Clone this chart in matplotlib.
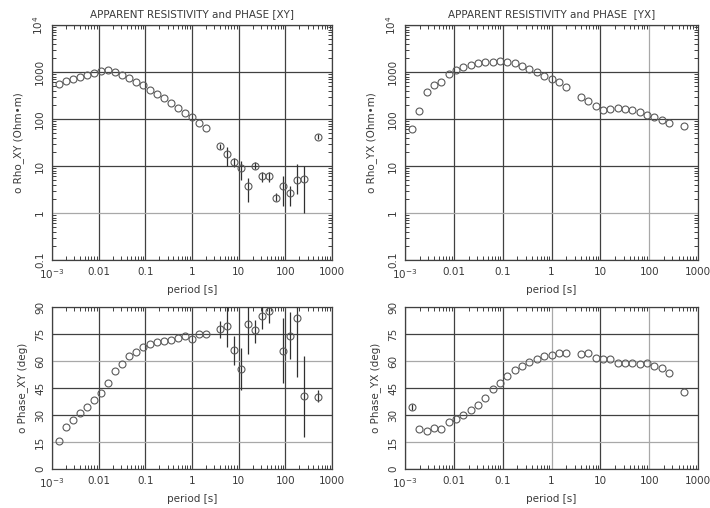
import matplotlib
matplotlib.use("Agg")
import matplotlib.pyplot as plt
import matplotlib.ticker as mticker
import numpy as np

# periods [s]
period = [0.00138, 0.00195, 0.00276, 0.00391, 0.00552, 0.00781, 0.0110, 0.0156,
          0.0221, 0.0313, 0.0442, 0.0625, 0.0884, 0.125, 0.177, 0.25, 0.354, 0.5,
          0.707, 1.0, 1.41, 2.0, 4.0, 5.66, 8.0, 11.3, 16.0, 22.6, 32.0, 45.3,
          64.0, 90.5, 128.0, 181.0, 256.0, 512.0]

rho_xy = [550, 630, 720, 790, 880, 970, 1060, 1100, 980, 870, 730, 610, 520, 410,
          340, 275, 215, 170, 135, 110, 83, 65, 26, 18, 12, 9, 3.7, 10, 6, 6, 2.1,
          3.8, 2.6, 5, 5.3, 42]
rho_xy_lo = rho_xy[:22] + [23, 10, 9.5, 5, 1.7, 8.5, 4.5, 4.5, 1.8, 1.4, 1.4, 2.5, 1.0, 38]
rho_xy_hi = rho_xy[:22] + [29, 25, 15, 13, 5.5, 12, 7.5, 7.5, 2.6, 6, 3.7, 11, 10, 47]

rho_yx = [60, 150, 380, 520, 610, 920, 1100, 1260, 1390, 1520, 1660, 1660, 1720,
          1660, 1520, 1370, 1160, 1000, 820, 710, 600, 490, 300, 240, 190, 153,
          162, 175, 162, 155, 143, 122, 109, 95, 83, 70]

phase_xy = [15.5, 23.3, 27.5, 31.2, 34.6, 38.4, 42.3, 47.7, 54.5, 58.2, 62.6, 65.0,
            67.8, 69.3, 70.4, 71.1, 71.7, 72.6, 73.7, 72.3, 75.2, 75.2, 77.6, 79.3,
            66, 55.4, 80.4, 77, 85, 87.8, np.nan, 65.6, 74.1, 84, 40.7, 40]
phase_xy_lo = phase_xy[:22] + [73, 67.8, 58, 44, 64, 70, 78, 81, np.nan, 48, 61, 51, 18, 37]
phase_xy_hi = phase_xy[:22] + [82, 90, 74, 67, 90, 83, 90, 90, np.nan, 84, 87, 90, 63, 44]

phase_yx = [34.3, 22.2, 20.9, 22.6, 22.0, 25.9, 28.0, 30.0, 33.0, 35.6, 39.3, 44.4,
            47.6, 51.7, 54.8, 57.2, 59.4, 60.9, 62.6, 63.5, 64.4, 64.6, 63.9, 64.4,
            61.7, 60.9, 61.1, 59.1, 58.9, 58.9, 58.5, 58.9, 57.4, 55.9, 53.3, 43.0]
phase_yx_lo = [32.6] + phase_yx[1:]
phase_yx_hi = [36.0] + phase_yx[1:]

x_ticks = [1e-3, 0.01, 0.1, 1, 10, 100, 1000]
x_labels = ["$10^{-3}$", "0.01", "0.1", "1", "10", "100", "1000"]
rho_ticks = [0.1, 1, 10, 100, 1000, 1e4]
rho_labels = ["0.1", "1", "10", "100", "1000", "$10^{4}$"]
phase_ticks = [0, 15, 30, 45, 60, 75, 90]

TXT = "#3a3a3a"
DARK = "#404040"
LIGHT = "#a8a8a8"
plt.rcParams["font.family"] = ["DejaVu Sans"]
plt.rcParams["font.size"] = 7
plt.rcParams["mathtext.default"] = "regular"

fig = plt.figure(figsize=(7.10, 5.08), dpi=100)
W, H = 710.0, 508.0


def make_axes(x0, x1, y0, y1):
    return fig.add_axes([x0 / W, 1 - y1 / H, (x1 - x0) / W, (y1 - y0) / H])


def style(ax, yticks, ylabels, ylabel, is_log, light_x, light_y):
    ax.set_xscale("log")
    ax.set_xlim(1e-3, 1000)
    if is_log:
        ax.set_yscale("log")
        ax.set_ylim(0.1, 1e4)
    else:
        ax.set_ylim(0, 90)
    for v in x_ticks:
        ax.axvline(v, color=LIGHT if v in light_x else DARK, lw=0.9, zorder=1)
    for v in yticks:
        ax.axhline(v, color=LIGHT if v in light_y else DARK, lw=0.9, zorder=1)
    ax.set_xticks(x_ticks)
    ax.set_xticklabels(x_labels)
    ax.set_yticks(yticks)
    ax.set_yticklabels(ylabels, rotation=90, va="center")
    ax.xaxis.set_minor_locator(mticker.LogLocator(base=10, subs=np.arange(2, 10)))
    ax.xaxis.set_minor_formatter(mticker.NullFormatter())
    if is_log:
        ax.yaxis.set_minor_locator(mticker.LogLocator(base=10, subs=np.arange(2, 10)))
        ax.yaxis.set_minor_formatter(mticker.NullFormatter())
    else:
        ax.yaxis.set_minor_locator(mticker.NullLocator())
    ax.tick_params(which="both", direction="in", top=True, right=True,
                   color=DARK, labelcolor=TXT, width=0.7, labelsize=7.5)
    ax.tick_params(which="major", length=0, pad=5)
    ax.tick_params(which="minor", length=3)
    for s in ax.spines.values():
        s.set_color(DARK)
        s.set_linewidth(0.9)
    ax.set_xlabel("period [s]", color=TXT, labelpad=3, fontsize=7.5)
    ax.set_ylabel(ylabel, color=TXT, labelpad=5, fontsize=7.5)


def plot_points(ax, y, lo, hi):
    p = np.array(period)
    y = np.array(y, dtype=float)
    lo = np.array(lo, dtype=float)
    hi = np.array(hi, dtype=float)
    ax.vlines(p, lo, hi, color="#303030", lw=0.9, zorder=3)
    ax.plot(p, y, "o", ms=5, mfc="none", mec="#5a5a5a", mew=0.8, zorder=4)


ax1 = make_axes(52, 332, 25, 260)
style(ax1, rho_ticks, rho_labels, "o Rho_XY (Ohm\u2022m)", True, [], [1])
plot_points(ax1, rho_xy, rho_xy_lo, rho_xy_hi)
ax1.set_title("APPARENT RESISTIVITY and PHASE [XY]", color=TXT, pad=6, fontsize=7.5)

ax2 = make_axes(405, 698, 25, 260)
style(ax2, rho_ticks, rho_labels, "o Rho_YX (Ohm\u2022m)", True, [100, 1000], [1])
plot_points(ax2, rho_yx, rho_yx, rho_yx)
ax2.set_title("APPARENT RESISTIVITY and PHASE  [YX]", color=TXT, pad=6, fontsize=7.5)

ax3 = make_axes(52, 332, 307, 469)
style(ax3, phase_ticks, [str(t) for t in phase_ticks], "o Phase_XY (deg)", False,
      [], [0, 15, 60, 90])
plot_points(ax3, phase_xy, phase_xy_lo, phase_xy_hi)

ax4 = make_axes(405, 698, 307, 469)
style(ax4, phase_ticks, [str(t) for t in phase_ticks], "o Phase_YX (deg)", False,
      [1, 100, 1000], [15, 60, 90])
plot_points(ax4, phase_yx, phase_yx_lo, phase_yx_hi)

fig.savefig("out.png", dpi=100)
